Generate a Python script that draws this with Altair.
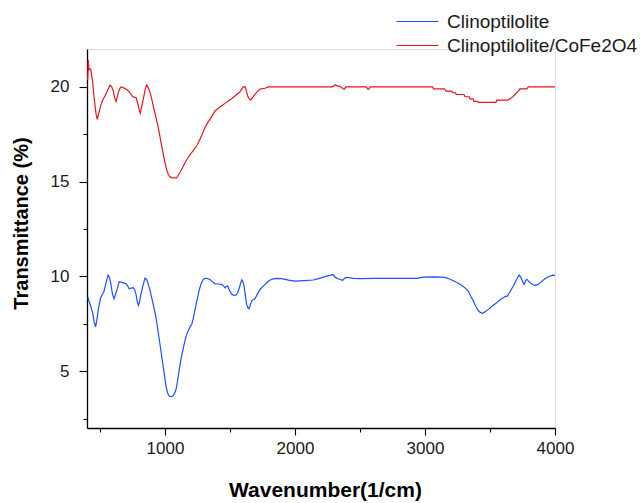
import altair as alt
import pandas as pd

# ---- data ----
series_names = ["Clinoptilolite", "Clinoptilolite/CoFe2O4"]
series_colors = ["#1f4fff", "#e4141c"]

clino_wn = [405, 410, 415, 430, 444, 455, 466, 476, 487, 505, 531, 548, 562, 572, 582, 595, 608, 628, 648, 675,
            700, 712, 725, 740, 756, 767, 777, 786, 795, 803, 812, 830, 846, 858, 872, 885, 898, 915, 931, 956,
            982, 1008, 1020, 1033, 1046, 1059, 1072, 1085, 1097, 1110, 1125, 1141, 1157, 1172, 1190, 1205, 1218,
            1231, 1248, 1264, 1280, 1295, 1308, 1321, 1336, 1351, 1368, 1385, 1410, 1436, 1450, 1462, 1472, 1482,
            1497, 1513, 1530, 1546, 1560, 1572, 1582, 1590, 1598, 1608, 1618, 1628, 1637, 1646, 1656, 1667, 1680,
            1692, 1710, 1731, 1750, 1769, 1790, 1808, 1835, 1859, 1897, 1950, 2000, 2070, 2141, 2180, 2218, 2250,
            2270, 2282, 2295, 2308, 2340, 2367, 2385, 2403, 2450, 2500, 2600, 2705, 2820, 2936, 2987, 3060, 3141,
            3175, 3205, 3245, 3282, 3310, 3333, 3352, 3372, 3390, 3410, 3425, 3443, 3465, 3487, 3520, 3551, 3580,
            3603, 3618, 3633, 3655, 3679, 3700, 3718, 3725, 3735, 3744, 3752, 3762, 3775, 3787, 3798, 3808, 3826,
            3846, 3872, 3900, 3923, 3950, 3982, 4000]
clino_t = [8.8, 8.85, 8.7, 8.4, 8.08, 7.6, 7.34, 7.7, 8.26, 8.87, 9.22, 9.7, 10.07, 9.95, 9.67, 9.1, 8.82, 9.22,
           9.72, 9.67, 9.61, 9.5, 9.35, 9.38, 9.4, 9.3, 9.05, 8.7, 8.47, 8.6, 8.96, 9.5, 9.9, 9.85, 9.58, 9.25,
           8.87, 8.35, 7.82, 6.67, 5.44, 4.21, 3.85, 3.68, 3.65, 3.68, 3.8, 4.03, 4.5, 5.09, 5.7, 6.23, 6.7, 7.03,
           7.3, 7.46, 7.8, 8.26, 8.8, 9.31, 9.65, 9.84, 9.9, 9.9, 9.86, 9.81, 9.7, 9.61, 9.6, 9.58, 9.5, 9.4,
           9.47, 9.49, 9.25, 9.05, 9.0, 9.01, 9.15, 9.4, 9.65, 9.81, 9.75, 9.49, 9.0, 8.52, 8.35, 8.29, 8.5,
           8.7, 8.78, 8.82, 9.05, 9.31, 9.45, 9.58, 9.72, 9.81, 9.87, 9.9, 9.88, 9.8, 9.75, 9.78, 9.81, 9.88,
           9.96, 10.03, 10.05, 10.09, 10.08, 9.96, 9.85, 9.79, 9.92, 9.95, 9.9, 9.88, 9.9, 9.9, 9.9, 9.9, 9.96,
           9.97, 9.96, 9.9, 9.81, 9.68, 9.53, 9.38, 9.22, 8.95, 8.7, 8.42, 8.2, 8.1, 8.05, 8.15, 8.26, 8.45,
           8.61, 8.78, 8.87, 8.95, 8.96, 9.2, 9.49, 9.78, 10.0, 10.07, 9.98, 9.85, 9.7, 9.58, 9.8, 9.84, 9.72,
           9.67, 9.57, 9.53, 9.58, 9.75, 9.88, 9.98, 10.07, 10.05]

cofe_wn = [405, 408, 410, 414, 420, 428, 436, 444, 452, 462, 470, 479, 490, 505, 520, 538, 557, 577, 590, 602,
           612, 623, 632, 641, 652, 662, 675, 692, 708, 725, 740, 751, 765, 777, 787, 795, 803, 810, 820, 833,
           846, 859, 872, 885, 900, 915, 930, 948, 962, 975, 988, 1000, 1012, 1025, 1038, 1052, 1070, 1090,
           1103, 1115, 1135, 1154, 1180, 1205, 1225, 1244, 1260, 1275, 1292, 1308, 1327, 1346, 1365, 1385,
           1410, 1436, 1462, 1487, 1512, 1538, 1558, 1577, 1590, 1602, 1618, 1627, 1636, 1647, 1659, 1675,
           1692, 1710, 1731, 1769, 1795, 1900, 2100, 2290, 2300, 2312, 2325, 2345, 2370, 2380, 2390, 2450,
           2550, 2560, 2568, 2578, 2700, 2900, 3059, 3065, 3150, 3161, 3205, 3213, 3235, 3240, 3300, 3308,
           3340, 3346, 3370, 3377, 3405, 3410, 3546, 3551, 3636, 3660, 3679, 3700, 3718, 3730, 3782, 3795, 4000]
cofe_t = [20.35, 21.0, 21.43, 20.9, 20.95, 20.94, 20.6, 20.23, 19.6, 19.0, 18.55, 18.29, 18.6, 19.0, 19.3, 19.52,
          19.8, 20.1, 20.0, 19.79, 19.45, 19.23, 19.45, 19.7, 19.9, 20.0, 19.98, 19.91, 19.85, 19.74, 19.6,
          19.49, 19.45, 19.44, 19.2, 19.0, 18.75, 18.61, 18.95, 19.35, 19.8, 20.1, 19.95, 19.7, 19.3, 18.82,
          18.4, 17.86, 17.35, 16.88, 16.4, 16.0, 15.65, 15.39, 15.25, 15.21, 15.2, 15.21, 15.35, 15.48, 15.75,
          16.0, 16.3, 16.53, 16.72, 16.88, 17.1, 17.33, 17.6, 17.86, 18.1, 18.29, 18.5, 18.73, 18.87, 19.0,
          19.13, 19.26, 19.38, 19.52, 19.64, 19.74, 19.88, 20.0, 20.0, 19.75, 19.52, 19.38, 19.3, 19.45, 19.61,
          19.75, 19.88, 19.93, 20.0, 20.0, 20.0, 20.0, 20.08, 20.1, 20.05, 20.03, 19.9, 19.88, 20.0, 20.0,
          20.0, 19.88, 19.88, 20.0, 20.0, 20.0, 20.0, 19.9, 19.9, 19.78, 19.78, 19.69, 19.69, 19.6, 19.6,
          19.48, 19.48, 19.37, 19.37, 19.24, 19.24, 19.18, 19.18, 19.3, 19.3, 19.4, 19.5, 19.65, 19.78, 19.9,
          19.9, 20.0, 20.0]

x_ticks = [500, 1000, 1500, 2000, 2500, 3000, 3500, 4000]
y_ticks = [2.5, 5, 7.5, 10, 12.5, 15, 17.5, 20]

rows = []
for name, wn, tv in [(series_names[0], clino_wn, clino_t), (series_names[1], cofe_wn, cofe_t)]:
    for i, (w, t) in enumerate(zip(wn, tv)):
        rows.append({"series": name, "wn": w, "t": t, "idx": i})
df = pd.DataFrame(rows)

FONT = "Liberation Sans"

chart = alt.Chart(df).mark_line(strokeWidth=1.2).encode(
    x=alt.X("wn:Q",
            scale=alt.Scale(domain=[400, 4000], nice=False, zero=False),
            axis=alt.Axis(title="Wavenumber(1/cm)", values=x_ticks,
                          labelExpr="datum.value % 1000 == 0 ? datum.label : ''",
                          format="d",
                          tickSize={"condition": {"test": "datum.value % 1000 != 0", "value": 4}, "value": 7},
                          labelPadding=5, labelFontSize=17, labelFont=FONT, labelColor="#1a1a1a",
                          titleFont=FONT, titleFontSize=21, titleFontWeight="bold", titleColor="#000000",
                          titleX=238, titleY=68, titleBaseline="alphabetic", titleAnchor="start",
                          titleAlign="center",
                          grid=False, domainColor="#000000", domainWidth=1.3,
                          tickColor="#000000", tickWidth=1.1, labelFlush=False, labelOverlap=False)),
    y=alt.Y("t:Q",
            scale=alt.Scale(domain=[2, 22], nice=False, zero=False),
            axis=alt.Axis(title="Transmittance (%)", values=y_ticks,
                          labelExpr="datum.value % 5 == 0 ? datum.label : ''",
                          tickSize={"condition": {"test": "datum.value % 5 != 0", "value": 4}, "value": 8},
                          labelPadding=10, labelFontSize=17, labelFont=FONT, labelColor="#1a1a1a",
                          titleFont=FONT, titleFontSize=20, titleFontWeight="bold", titleColor="#000000",
                          titleX=-60, titleY=174, titleBaseline="alphabetic", titleAngle=270,
                          titleAlign="center",
                          grid=False, domainColor="#000000", domainWidth=1.3,
                          tickColor="#000000", tickWidth=1.1, labelOverlap=False)),
    color=alt.Color("series:N",
                    scale=alt.Scale(domain=series_names, range=series_colors),
                    legend=alt.Legend(title=None, orient="none", legendX=307, legendY=-37,
                                      symbolType="M-1,0H5", symbolSize=196, symbolStrokeWidth=1.2,
                                      labelOffset=34, labelFont=FONT, labelFontSize=19, labelLimit=0,
                                      labelColor="#1a1a1a", rowPadding=4, padding=0)),
    order=alt.Order("idx:Q"),
).properties(
    width=468, height=379,
    padding={"left": 87, "top": 49, "right": 86, "bottom": 75},
    autosize=alt.AutoSizeParams(type="none"),
).configure_view(stroke=None).configure(background="white")

chart.save("out.html", embed_options={"renderer": "svg", "actions": False})
